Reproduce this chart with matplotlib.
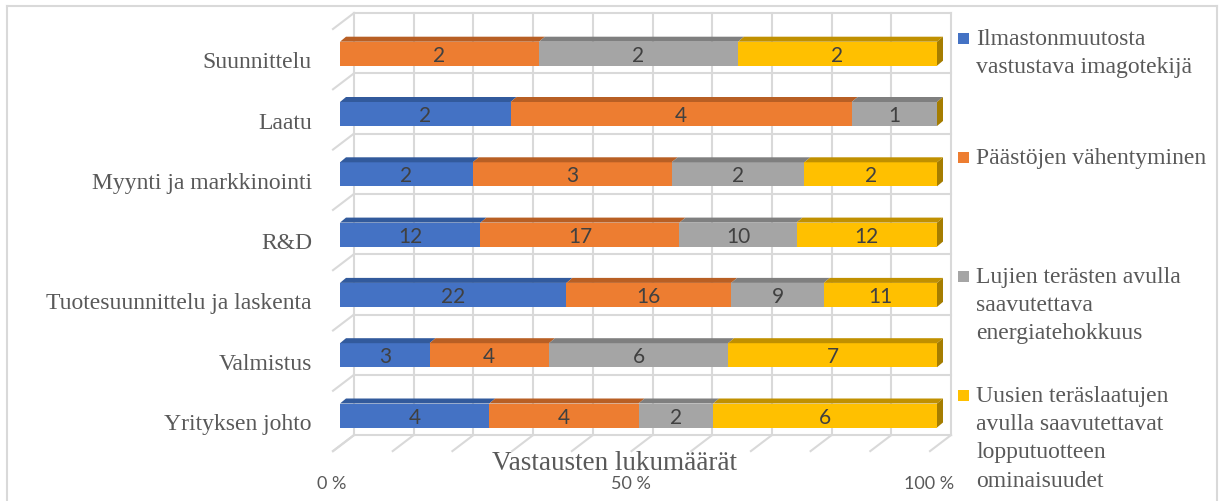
import matplotlib.pyplot as plt
from matplotlib.patches import Polygon, Rectangle

# vastaukset osastoittain
categories = ['Suunnittelu', 'Laatu', 'Myynti ja markkinointi', 'R&D',
              'Tuotesuunnittelu ja laskenta', 'Valmistus', 'Yrityksen johto']
imago = [0, 2, 2, 12, 22, 3, 4]
paastot = [2, 4, 3, 17, 16, 4, 4]
lujat = [2, 1, 2, 10, 9, 6, 2]
uudet = [2, 0, 2, 12, 11, 7, 6]
series_names = ['Ilmastonmuutosta\nvastustava imagotekijä',
                'Päästöjen vähentyminen',
                'Lujien terästen avulla\nsaavutettava\nenergiatehokkuus',
                'Uusien teräslaatujen\navulla saavutettavat\nlopputuotteen\nominaisuudet']
xticks = [0, 50, 100]

front = ['#4472C4', '#ED7D31', '#A5A5A5', '#FFC000']
top = ['#325A9C', '#B85F24', '#7F7F7F', '#C09000']
side = '#A57D00'
grid_c = '#D9D9D9'
txt_c = '#595959'

W, H = 1219, 502
fig = plt.figure(figsize=(W / 100, H / 100), dpi=100)

# akselit: x = prosentti, y = kategorian indeksi (0 ylhäällä)
x0_px, x1_px = 340, 937
yc0, step = 54.7, 60.3
ax = fig.add_axes([x0_px / W, 1 - (yc0 + 6.5 * step) / H,
                   (x1_px - x0_px) / W, 7 * step / H])
ax.set_xlim(0, 100)
ax.set_ylim(6.5, -0.5)
ax.axis('off')

px = 100 / (x1_px - x0_px)   # yksi pikseli x-suunnassa
py = 1 / step                # yksi pikseli y-suunnassa

# takaseinä ja lattia
bx0, bx1 = 14 * px, 14 * px + 100
wall_top = (14 - yc0) * py
floor = wall_top + 7
ddx, ddy = -21 * px, 16 * py
kw = dict(color=grid_c, lw=1.5, clip_on=False, zorder=1)
for k in range(11):
    gx = bx0 + 10 * k
    ax.plot([gx, gx], [wall_top, floor], **kw)
    ax.plot([gx, gx + ddx], [floor, floor + ddy], **kw)
for k in range(8):
    gy = wall_top + k
    ax.plot([bx0, bx1], [gy, gy], **kw)
    ax.plot([bx0, bx0 + ddx], [gy, gy + ddy], **kw)

# palkit
bh = 24 * py
ox, oy = 6 * px, -5 * py
data = [imago, paastot, lujat, uudet]
for i, cat in enumerate(categories):
    vals = [s[i] for s in data]
    total = sum(vals)
    left = 0
    yt, yb = i - bh / 2, i + bh / 2
    for j, v in enumerate(vals):
        w = v / total * 100
        if v > 0:
            ax.add_patch(Rectangle((left, yt), w, bh, fc=front[j], ec='none',
                                   zorder=3, clip_on=False))
            ax.add_patch(Polygon([(left, yt), (left + w, yt), (left + w + ox, yt + oy),
                                  (left + ox, yt + oy)], closed=True, fc=top[j],
                                 ec='none', zorder=3, clip_on=False))
            ax.text(left + w / 2, i + 1 * py, str(v), ha='center', va='center',
                    fontsize=15, color='#404040', family='Lato', zorder=4)
        left += w
    ax.add_patch(Polygon([(100, yt), (100 + ox, yt + oy), (100 + ox, yb + oy), (100, yb)],
                         closed=True, fc=side, ec='none', zorder=3, clip_on=False))
    ax.text(-28 * px, i + 8 * py, cat, ha='right', va='center', fontsize=17,
            color=txt_c, family='Liberation Serif')

# x-akselin prosentit lattian etureunassa
for t in xticks:
    ax.text(t - 8 * px, floor + 48 * py, f'{t} %', ha='center', va='center',
            fontsize=13, color=txt_c, family='Lato', clip_on=False)
ax.text((614 - x0_px) * px, floor + 27 * py, 'Vastausten lukumäärät', ha='center',
        va='center', fontsize=19.5, color=txt_c, family='Liberation Serif')

# selite
for j, name in enumerate(series_names):
    ty = 39 + 119 * j
    fig.patches.append(Rectangle((958 / W, 1 - (ty + 6) / H), 11 / W, 11 / H,
                                 fc=front[j], ec='none', transform=fig.transFigure))
    fig.text(976 / W, 1 - (ty - 10) / H, name, ha='left', va='top', fontsize=17,
             color=txt_c, family='Liberation Serif', linespacing=1.45)

# kaavion kehys
for xs, ys in [([7, 7], [7, 510]), ([7, 1217], [7, 7]), ([1217, 1217], [7, 510])]:
    fig.lines.append(plt.Line2D([x / W for x in xs], [1 - y / H for y in ys],
                                color=grid_c, lw=1.5, transform=fig.transFigure))

fig.savefig('out.png', dpi=100)
